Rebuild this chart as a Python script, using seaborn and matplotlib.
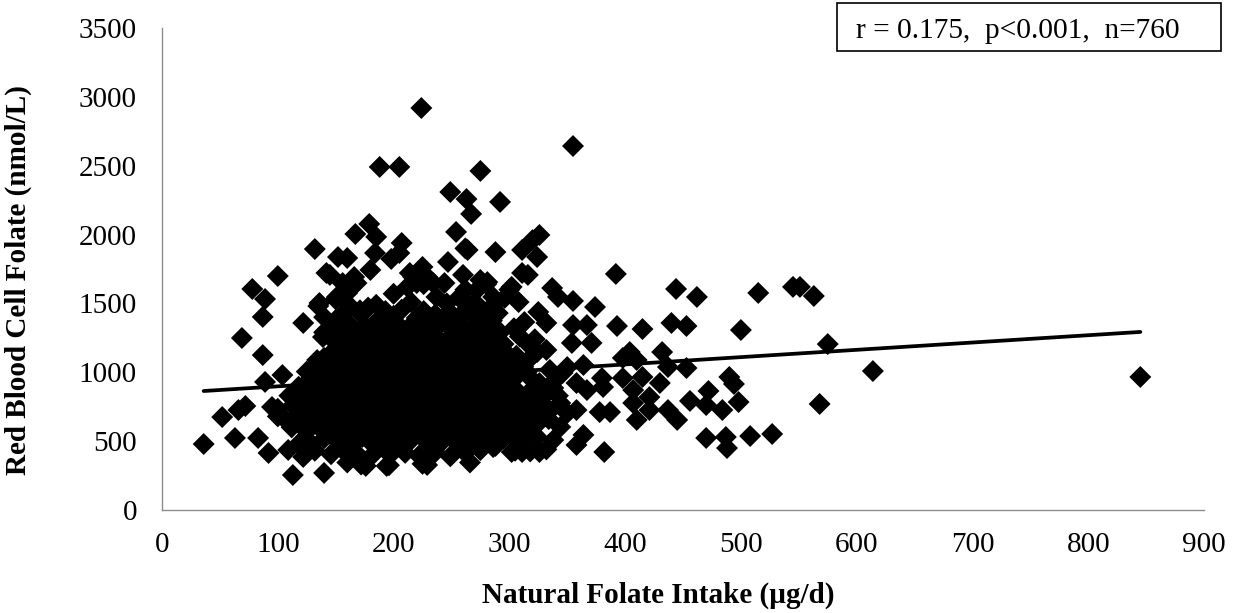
import matplotlib
matplotlib.use('Agg')
import matplotlib.pyplot as plt
from matplotlib.patches import Rectangle
import pandas as pd
import seaborn as sns

W, H = 1246, 613

x_ticks = [0, 100, 200, 300, 400, 500, 600, 700, 800, 900]
y_ticks = [0, 500, 1000, 1500, 2000, 2500, 3000, 3500]

trend_x = [36, 845]
trend_y = [864, 1293]

# (intake, rbc folate), grouped by region
left_points = [
    (36, 479), (52, 675), (63, 523), (66, 726), (72, 755), (69, 1249), (87, 1125), (87, 1402),
    (89, 930), (83, 523), (92, 414), (113, 254), (140, 269), (122, 1358), (109, 436), (122, 385),
    (104, 980), (95, 748), (78, 1605), (100, 1699), (89, 1532), (132, 1895), (145, 1707), (135, 1481),
    (100, 680), (118, 480), (128, 470), (142, 1721), (136, 1503), (139, 1256), (134, 1089),
]

top_points = [
    (224, 2919), (188, 2491), (205, 2491), (249, 2309), (355, 2643), (275, 2462), (263, 2258), (267, 2150),
    (292, 2237), (254, 2019), (167, 2004), (179, 2077), (185, 1983), (207, 1939), (152, 1837), (160, 1830),
    (184, 1866), (198, 1823), (205, 1866), (225, 1765), (247, 1801), (244, 1648), (260, 1707), (166, 1692),
    (180, 1743), (264, 1888), (288, 1873), (311, 1888), (324, 1837), (326, 1997), (320, 1960), (262, 1900),
    (217, 1692), (223, 1670), (275, 1670), (281, 1655), (229, 1692), (214, 1721), (220, 1648), (156, 1648),
    (168, 1648), (160, 1576), (151, 1547), (237, 1547), (257, 1547), (286, 1547), (272, 1598),
]

core_points = [
    (160, 345), (172, 330), (176, 320), (194, 320), (196, 325), (229, 327), (225, 335), (266, 345),
    (132, 430), (146, 405), (158, 420), (170, 395), (183, 410), (197, 400), (210, 415), (222, 395),
    (236, 420), (249, 390), (262, 415), (275, 435), (288, 465), (305, 430), (318, 425), (332, 440),
    (128, 490), (140, 520), (152, 500), (165, 480), (178, 510), (190, 495), (204, 480), (216, 515),
    (229, 490), (243, 505), (255, 480), (268, 510), (281, 495), (295, 520), (310, 505),
    (112, 600), (125, 570), (137, 590), (149, 565), (161, 600), (174, 575), (187, 590), (200, 560),
    (213, 595), (226, 570), (239, 600), (252, 565), (265, 590), (278, 575), (291, 600), (303, 580), (320, 560),
    (105, 670), (118, 650), (130, 680), (143, 655), (156, 670), (168, 640), (181, 665), (194, 690),
    (207, 650), (220, 675), (233, 645), (246, 665), (259, 690), (272, 650), (285, 670), (298, 645), (312, 665), (326, 640),
    (100, 735), (113, 760), (126, 730), (139, 750), (152, 725), (164, 745), (177, 770), (190, 730),
    (203, 750), (216, 720), (229, 755), (242, 735), (255, 760), (268, 725), (281, 745), (294, 770), (308, 735), (322, 750), (335, 720),
    (110, 830), (123, 810), (136, 840), (149, 815), (162, 835), (175, 800), (188, 825), (201, 845),
    (214, 810), (227, 830), (240, 800), (253, 840), (266, 815), (279, 830), (292, 805), (305, 835), (316, 810),
    (118, 895), (131, 920), (144, 890), (157, 910), (170, 880), (183, 905), (196, 925), (209, 885),
    (222, 915), (235, 890), (248, 920), (261, 895), (274, 910), (287, 880), (300, 905), (325, 900),
    (125, 1005), (138, 975), (151, 995), (164, 965), (177, 990), (190, 1010), (203, 970), (216, 995),
    (229, 960), (242, 1000), (255, 975), (268, 990), (281, 965), (294, 1000),
    (135, 1075), (148, 1050), (161, 1070), (174, 1045), (187, 1065), (200, 1085), (213, 1050), (226, 1075),
    (239, 1040), (252, 1080), (265, 1055), (278, 1070), (291, 1045),
    (145, 1130), (158, 1155), (171, 1125), (184, 1145), (197, 1165), (210, 1130), (223, 1150), (236, 1120),
    (249, 1155), (262, 1130), (275, 1160), (288, 1135),
    (150, 1215), (163, 1240), (176, 1205), (189, 1230), (202, 1250), (215, 1210), (228, 1235), (241, 1205),
    (254, 1245), (267, 1215), (280, 1240), (295, 1205),
    (140, 1290), (155, 1310), (168, 1285), (182, 1320), (196, 1290), (212, 1315), (225, 1280), (238, 1330),
    (252, 1300), (265, 1285), (278, 1320), (292, 1290),
    (140, 1400), (150, 1380), (172, 1420), (186, 1375), (200, 1410), (220, 1395), (236, 1420), (256, 1385),
    (270, 1415), (285, 1375),
    (150, 1530), (160, 1500), (178, 1470), (185, 1490), (215, 1510), (246, 1500), (258, 1530), (270, 1510),
    (285, 1480), (296, 1540),
    (200, 1570), (212, 1620), (226, 1640), (234, 1650), (262, 1600), (280, 1640), (300, 1600),
]

# second pass through the solid middle of the cloud
dense_points = [
    (147, 535), (160, 550), (173, 530), (186, 545), (199, 525), (212, 555), (225, 535), (238, 550),
    (251, 530), (264, 545), (277, 535), (290, 555),
    (131, 625), (144, 615), (157, 635), (170, 610), (183, 625), (196, 640), (209, 615), (222, 630),
    (235, 610), (248, 625), (261, 640), (274, 615), (287, 630), (300, 615),
    (119, 705), (132, 715), (145, 695), (158, 710), (171, 700), (184, 720), (197, 695), (210, 710),
    (223, 700), (236, 715), (249, 695), (262, 710), (275, 700), (288, 715), (301, 695), (316, 700),
    (116, 785), (129, 775), (142, 795), (155, 780), (168, 790), (181, 770), (194, 785), (207, 795),
    (220, 775), (233, 790), (246, 780), (259, 795), (272, 775), (285, 790), (298, 780), (311, 785),
    (124, 865), (137, 855), (150, 870), (163, 860), (176, 875), (189, 855), (202, 870), (215, 860),
    (228, 875), (241, 855), (254, 870), (267, 860), (280, 875), (293, 855), (306, 870),
    (128, 950), (141, 940), (154, 955), (167, 935), (180, 950), (193, 965), (206, 940), (219, 955),
    (232, 935), (245, 950), (258, 940), (271, 955), (284, 935), (297, 950),
    (130, 1030), (143, 1020), (156, 1035), (169, 1015), (182, 1030), (195, 1040), (208, 1020), (221, 1035),
    (234, 1015), (247, 1030), (260, 1020), (273, 1035), (286, 1015), (299, 1030),
    (140, 1105), (153, 1095), (166, 1110), (179, 1090), (192, 1105), (205, 1115), (218, 1095), (231, 1110),
    (244, 1090), (257, 1105), (270, 1095), (283, 1110), (296, 1090),
    (152, 1180), (165, 1190), (178, 1170), (191, 1185), (204, 1195), (217, 1175), (230, 1190), (243, 1170),
    (256, 1185), (269, 1175), (282, 1190), (295, 1160),
    (147, 1255), (170, 1265), (183, 1270), (196, 1245), (209, 1275), (222, 1255), (235, 1270), (248, 1250),
    (261, 1265), (274, 1255), (287, 1270),
    (148, 1345), (161, 1355), (175, 1340), (189, 1365), (204, 1345), (218, 1360), (231, 1340), (245, 1355),
    (259, 1345), (272, 1360), (286, 1340),
    (158, 1440), (171, 1450), (193, 1445), (207, 1455), (226, 1445), (248, 1440), (262, 1450), (277, 1445), (290, 1430),
]

right_points = [
    (311, 1721), (316, 1707), (302, 1620), (308, 1510), (337, 1612), (342, 1547), (355, 1518), (325, 1438),
    (313, 1365), (332, 1358), (355, 1343), (367, 1343), (371, 1213), (354, 1213), (324, 1147), (319, 1111),
    (332, 1162), (350, 1038), (364, 1053), (380, 958), (398, 958), (404, 1147), (398, 1104), (410, 1089),
    (437, 1038), (415, 966), (430, 922), (407, 871), (421, 820), (407, 777), (421, 726), (410, 654),
    (387, 711), (378, 711), (381, 893), (367, 871), (358, 726), (350, 704), (344, 777), (358, 922),
    (346, 995), (338, 886), (329, 704), (326, 922), (315, 1002), (318, 748), (344, 603), (324, 530),
    (338, 508), (326, 421), (311, 421), (302, 421), (286, 457), (315, 508), (300, 559), (306, 654),
    (329, 820), (335, 1017), (392, 1714), (444, 1605), (462, 1547), (515, 1576), (500, 1307), (440, 1358),
    (453, 1336), (393, 1336), (415, 1314), (374, 1474), (432, 1147), (453, 1031), (490, 966), (494, 915),
    (498, 784), (484, 726), (472, 864), (456, 792), (470, 762), (470, 523), (487, 530), (488, 450),
    (508, 537), (527, 552), (382, 421), (358, 472), (364, 545), (445, 654), (437, 726), (545, 1620),
    (551, 1620), (563, 1554), (568, 770), (575, 1205), (614, 1009), (845, 966),
    (305, 960), (312, 1040), (306, 1120), (318, 1190), (309, 1260), (322, 1240), (304, 1320), (318, 960),
    (328, 860), (338, 930), (342, 830), (320, 880), (312, 620), (334, 660),
]

df = pd.DataFrame(left_points + top_points + core_points + dense_points + right_points,
                  columns=['intake', 'rbc'])

sns.set_theme(style='white')
plt.rcParams['font.family'] = ['Liberation Serif', 'DejaVu Serif']

fig = plt.figure(figsize=(W / 100, H / 100), dpi=100)
ax = fig.add_axes([162 / W, 1 - 510 / H, (1204 - 162) / W, (510 - 28) / H])

sns.scatterplot(data=df, x='intake', y='rbc', marker='D', s=125, color='black',
                edgecolor='none', linewidth=0, ax=ax, clip_on=False)
sns.lineplot(x=trend_x, y=trend_y, color='black', linewidth=2.7, ax=ax)

ax.set_xlim(0, 900)
ax.set_ylim(0, 3500)
ax.set_xticks(x_ticks)
ax.set_yticks(y_ticks)
ax.tick_params(axis='x', labelsize=21, length=0, pad=16, colors='black')
ax.tick_params(axis='y', labelsize=21, length=0, pad=18, colors='black')
sns.despine(ax=ax)
for side in ['left', 'bottom']:
    ax.spines[side].set_color('#8c8c8c')
    ax.spines[side].set_linewidth(1.0)

ax.set_xlabel('')
ax.set_ylabel('')
fig.text(658 / W, 1 - 595 / H, 'Natural Folate Intake (µg/d)', fontsize=21, fontweight='bold',
         color='black', ha='center', va='center')
fig.text(18 / W, 1 - 280 / H, 'Red Blood Cell Folate (nmol/L)', fontsize=21, fontweight='bold',
         color='black', rotation=90, ha='center', va='center')

fig.add_artist(Rectangle((837 / W, 1 - 51 / H), (1221 - 837) / W, 48 / H, transform=fig.transFigure,
                         facecolor='white', edgecolor='black', linewidth=1.2))
fig.text(856 / W, 1 - 31 / H, 'r = 0.175,  p<0.001,  n=760', fontsize=21.2, color='black',
         ha='left', va='center')

fig.savefig('out.png', dpi=100)
